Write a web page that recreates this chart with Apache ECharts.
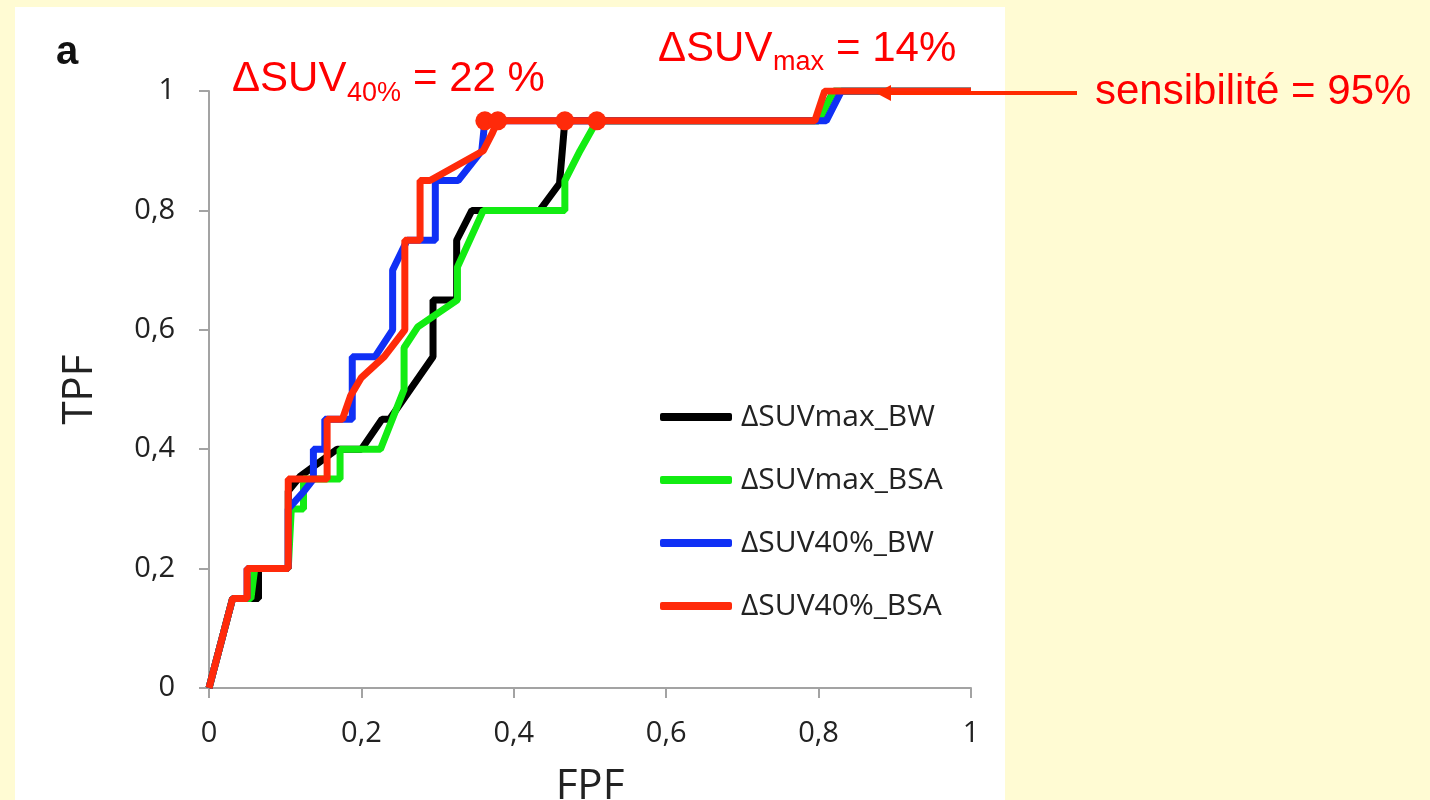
<!DOCTYPE html>
<html>
<head>
<meta charset="utf-8">
<script src="https://cdn.jsdelivr.net/npm/echarts@6/dist/echarts.min.js"></script>
<style>
  html, body { margin: 0; padding: 0; background: #FFFBD3; }
  #roc { width: 1430px; height: 800px; }
</style>
</head>
<body>
<div id="roc"></div>
<script>
// ROC curves: [FPF, TPF]
var seriesNames = ['ΔSUVmax_BW', 'ΔSUVmax_BSA', 'ΔSUV40%_BW', 'ΔSUV40%_BSA'];

var suvMaxBW = [
    [0, 0], [0.031, 0.15], [0.065, 0.15], [0.065, 0.2], [0.104, 0.2], [0.104, 0.33],
    [0.12, 0.355], [0.168, 0.4], [0.2, 0.4], [0.227, 0.45], [0.237, 0.45], [0.294, 0.555],
    [0.294, 0.65], [0.325, 0.65], [0.325, 0.75], [0.345, 0.8], [0.434, 0.8], [0.46, 0.845],
    [0.467, 0.95], [0.8, 0.95], [0.82, 1], [1, 1]
];
var suvMaxBSA = [
    [0, 0], [0.031, 0.15], [0.055, 0.15], [0.06, 0.2], [0.104, 0.2], [0.108, 0.3],
    [0.124, 0.3], [0.124, 0.35], [0.172, 0.35], [0.172, 0.4], [0.225, 0.4], [0.256, 0.5],
    [0.256, 0.57], [0.274, 0.605], [0.326, 0.65], [0.326, 0.705], [0.36, 0.8], [0.467, 0.8],
    [0.467, 0.85], [0.487, 0.9], [0.509, 0.95], [0.8, 0.95], [0.82, 1], [1, 1]
];
var suv40BW = [
    [0, 0], [0.031, 0.15], [0.05, 0.15], [0.05, 0.2], [0.104, 0.2], [0.104, 0.3],
    [0.125, 0.33], [0.137, 0.35], [0.137, 0.4], [0.152, 0.4], [0.152, 0.45], [0.188, 0.45],
    [0.188, 0.555], [0.218, 0.555], [0.241, 0.6], [0.241, 0.7], [0.26, 0.75], [0.297, 0.75],
    [0.297, 0.85], [0.327, 0.85], [0.358, 0.9], [0.362, 0.95], [0.81, 0.95], [0.83, 1], [1, 1]
];
var suv40BSA = [
    [0, 0], [0.031, 0.15], [0.05, 0.15], [0.05, 0.2], [0.104, 0.2], [0.104, 0.35],
    [0.155, 0.35], [0.155, 0.45], [0.175, 0.45], [0.186, 0.49], [0.2, 0.52], [0.23, 0.555],
    [0.257, 0.6], [0.257, 0.75], [0.277, 0.75], [0.277, 0.85], [0.29, 0.85], [0.36, 0.9],
    [0.372, 0.93], [0.379, 0.95], [0.795, 0.95], [0.808, 1], [1, 1]
];
// operating points at sensibilité = 95%
var cutX = [0.362, 0.379, 0.467, 0.509];
var cutY = 0.95;

var axisTicks = [0, 0.2, 0.4, 0.6, 0.8, 1];

var colors = ['#000000', '#12EC12', '#1030F5', '#FF2A0A'];
var curves = [suvMaxBW, suvMaxBSA, suv40BW, suv40BSA];

var chart = echarts.init(document.getElementById('roc'));

var series = curves.map(function (c, i) {
    return {
        name: seriesNames[i],
        type: 'line',
        data: c,
        showSymbol: false,
        z: 2 + i,
        lineStyle: { color: colors[i], width: 7 },
        itemStyle: { color: colors[i] }
    };
});
series.push({
    name: 'cut',
    type: 'scatter',
    data: cutX.map(function (x) { return [x, cutY]; }),
    symbolSize: 19,
    z: 10,
    itemStyle: { color: '#FF2A0A', opacity: 1 }
});

function tickFmt(v) {
    return String(v).replace('.', ',');
}

var axisCommon = {
    type: 'value',
    min: axisTicks[0],
    max: axisTicks[axisTicks.length - 1],
    interval: 0.2,
    nameLocation: 'middle',
    nameTextStyle: { fontFamily: 'Open Sans', fontSize: 42, color: '#222' },
    axisLine: { show: true, lineStyle: { color: '#A3A3A3', width: 2 } },
    axisTick: { show: true, length: 10, lineStyle: { color: '#A3A3A3', width: 2 } },
    splitLine: { show: false },
    axisLabel: { fontFamily: 'Open Sans', fontSize: 29, color: '#222', formatter: tickFmt }
};

// red annotation text, pieces placed by hand (Liberation Sans metrics)
function redText(str, x, y, size) {
    return {
        type: 'text', x: x, y: y, z: 100,
        style: { text: str, font: size + 'px "Liberation Sans"', fill: '#FF0000', verticalAlign: 'bottom' }
    };
}

chart.setOption({
    backgroundColor: '#FFFBD3',
    animation: false,
    grid: { left: 209, right: 459, top: 91, bottom: 112, containLabel: false, outerBoundsMode: 'none' },
    xAxis: Object.assign({}, axisCommon, {
        name: 'FPF',
        nameGap: 78,
        axisLabel: Object.assign({}, axisCommon.axisLabel, { margin: 31 })
    }),
    yAxis: Object.assign({}, axisCommon, {
        name: 'TPF',
        nameGap: 108,
        axisLabel: Object.assign({}, axisCommon.axisLabel, { margin: 34 })
    }),
    legend: {
        data: seriesNames,
        orient: 'vertical',
        left: 655,
        top: 397,
        itemWidth: 72,
        itemHeight: 8,
        itemGap: 33,
        icon: 'roundRect',
        textStyle: { fontFamily: 'Open Sans', fontSize: 30, color: '#222', padding: [0, 0, 0, 4] }
    },
    graphic: [
        { type: 'rect', z: -10, shape: { x: 15, y: 7, width: 990, height: 800 }, style: { fill: '#FFFFFF' } },
        { type: 'text', left: 56, top: 33, style: { text: 'a', font: 'bold 40px "Liberation Sans"', fill: '#111' } },
        redText('ΔSUV', 232, 100, 42),
        redText('40%', 347, 107, 27),
        redText('= 22 %', 413, 100, 42),
        redText('ΔSUV', 658, 70, 42),
        redText('max', 773, 76, 27),
        redText('= 14%', 836, 70, 42),
        redText('sensibilité = 95%', 1095, 113, 42),
        { type: 'line', z: 100, shape: { x1: 1077, y1: 93, x2: 888, y2: 93 }, style: { stroke: '#FF2A00', lineWidth: 4 } },
        { type: 'polygon', z: 100, shape: { points: [[876, 93], [891, 85], [891, 101]] }, style: { fill: '#FF2A00' } }
    ],
    series: series
});
</script>
</body>
</html>
